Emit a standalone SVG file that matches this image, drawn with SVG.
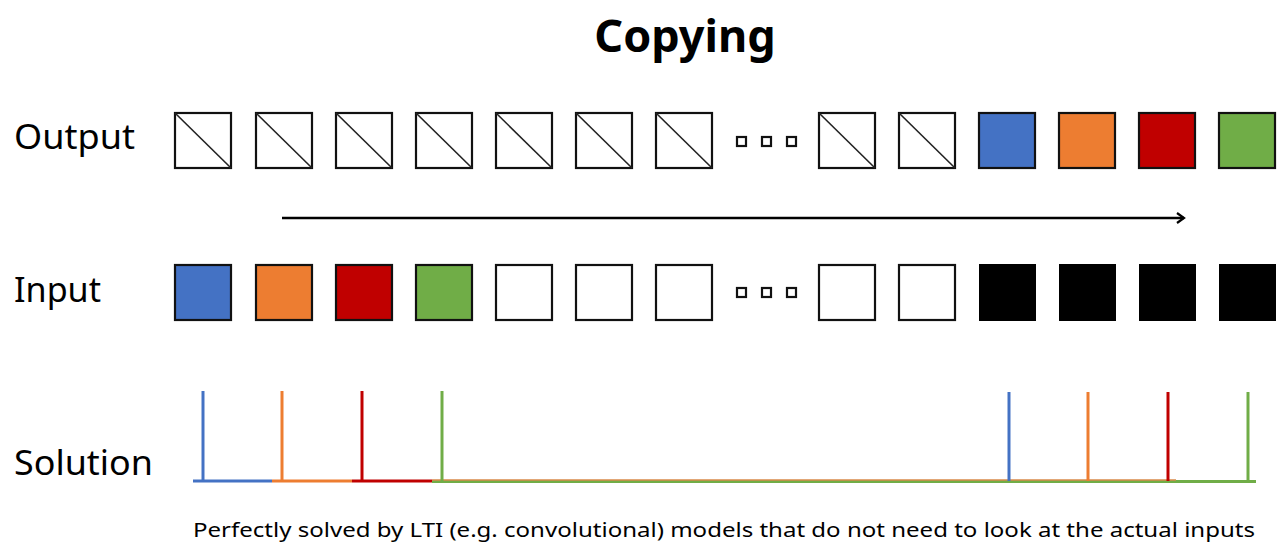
<svg xmlns="http://www.w3.org/2000/svg" width="1277" height="547" viewBox="0 0 1277 547">
<defs>
<style>
.lbl{font-family:"Noto Sans","Liberation Sans",sans-serif;font-size:35px;fill:#000}
.ttl{font-family:"Noto Sans","Liberation Sans",sans-serif;font-size:45px;font-weight:bold;fill:#000}
.cap{font-family:"Noto Sans","Liberation Sans",sans-serif;font-size:20px;fill:#000}
.box{stroke:#111;stroke-width:2.2}
.diag{stroke:#222;stroke-width:1.6}
.dot{fill:#fff;stroke:#111;stroke-width:2.2}
.blue{fill:#4472c4}.orange{fill:#ed7d31}.red{fill:#c00000}.green{fill:#70ad47}.blk{fill:#000}.wht{fill:#fff}
.sol{stroke-width:3;fill:none}
</style>
<marker id="arr" viewBox="0 0 12 12" refX="9" refY="6" markerWidth="12" markerHeight="12" markerUnits="userSpaceOnUse" orient="auto">
<path d="M2,1 L9,6 L2,11" fill="none" stroke="#000" stroke-width="2.2"/>
</marker>
<g id="ob">
<rect class="box wht" x="0" y="0" width="56" height="55"/>
<line class="diag" x1="0" y1="0" x2="56" y2="55"/>
</g>
</defs>
<rect width="1277" height="547" fill="#fff"/>
<g id="title"><text class="ttl" x="685" y="52" text-anchor="middle">Copying</text></g>
<g id="labels">
<text class="lbl" x="14" y="149" textLength="121" lengthAdjust="spacingAndGlyphs">Output</text>
<text class="lbl" x="14" y="302" textLength="87" lengthAdjust="spacingAndGlyphs">Input</text>
<text class="lbl" x="14" y="475" textLength="139" lengthAdjust="spacingAndGlyphs">Solution</text>
</g>
<g id="output-row">
<use href="#ob" x="175" y="113"/>
<use href="#ob" x="256" y="113"/>
<use href="#ob" x="336" y="113"/>
<use href="#ob" x="416" y="113"/>
<use href="#ob" x="496" y="113"/>
<use href="#ob" x="576" y="113"/>
<use href="#ob" x="656" y="113"/>
<rect class="dot" x="737" y="137" width="9" height="9"/>
<rect class="dot" x="762" y="137" width="9" height="9"/>
<rect class="dot" x="787" y="137" width="9" height="9"/>
<use href="#ob" x="819" y="113"/>
<use href="#ob" x="899" y="113"/>
<rect class="box blue" x="979" y="113" width="56" height="55"/>
<rect class="box orange" x="1059" y="113" width="56" height="55"/>
<rect class="box red" x="1139" y="113" width="56" height="55"/>
<rect class="box green" x="1219" y="113" width="56" height="55"/>
</g>
<g id="input-row">
<rect class="box blue" x="175" y="265" width="56" height="55"/>
<rect class="box orange" x="256" y="265" width="56" height="55"/>
<rect class="box red" x="336" y="265" width="56" height="55"/>
<rect class="box green" x="416" y="265" width="56" height="55"/>
<rect class="box wht" x="496" y="265" width="56" height="55"/>
<rect class="box wht" x="576" y="265" width="56" height="55"/>
<rect class="box wht" x="656" y="265" width="56" height="55"/>
<rect class="dot" x="737" y="288" width="9" height="9"/>
<rect class="dot" x="762" y="288" width="9" height="9"/>
<rect class="dot" x="787" y="288" width="9" height="9"/>
<rect class="box wht" x="819" y="265" width="56" height="55"/>
<rect class="box wht" x="899" y="265" width="56" height="55"/>
<rect class="blk" x="979" y="264" width="57" height="57"/>
<rect class="blk" x="1059" y="264" width="57" height="57"/>
<rect class="blk" x="1139" y="264" width="57" height="57"/>
<rect class="blk" x="1219" y="264" width="57" height="57"/>
</g>
<g id="connectors">
<line x1="282" y1="218" x2="1184" y2="218" stroke="#000" stroke-width="2.4" marker-end="url(#arr)"/>
</g>
<g id="solution">
<line class="sol" stroke="#4472c4" x1="193" y1="481" x2="272" y2="481"/>
<line class="sol" stroke="#ed7d31" x1="272" y1="481" x2="352" y2="481"/>
<line class="sol" stroke="#c00000" x1="352" y1="481" x2="432" y2="481"/>
<line class="sol" stroke="#70ad47" x1="432" y1="481.5" x2="1256" y2="481.5"/>
<line stroke="#d98a4a" stroke-width="1.3" x1="432" y1="480" x2="1176" y2="480"/>
<line class="sol" stroke="#4472c4" x1="203" y1="391" x2="203" y2="481"/>
<line class="sol" stroke="#ed7d31" x1="282" y1="391" x2="282" y2="481"/>
<line class="sol" stroke="#c00000" x1="362" y1="391" x2="362" y2="481"/>
<line class="sol" stroke="#70ad47" x1="442" y1="391" x2="442" y2="481"/>
<line class="sol" stroke="#4472c4" x1="1009" y1="392" x2="1009" y2="481"/>
<line class="sol" stroke="#ed7d31" x1="1088" y1="392" x2="1088" y2="481"/>
<line class="sol" stroke="#c00000" x1="1168" y1="392" x2="1168" y2="481"/>
<line class="sol" stroke="#70ad47" x1="1248" y1="392" x2="1248" y2="481"/>
</g>
<g id="caption"><text class="cap" x="193" y="537" textLength="1062" lengthAdjust="spacingAndGlyphs">Perfectly solved by LTI (e.g. convolutional) models that do not need to look at the actual inputs</text></g>
</svg>
